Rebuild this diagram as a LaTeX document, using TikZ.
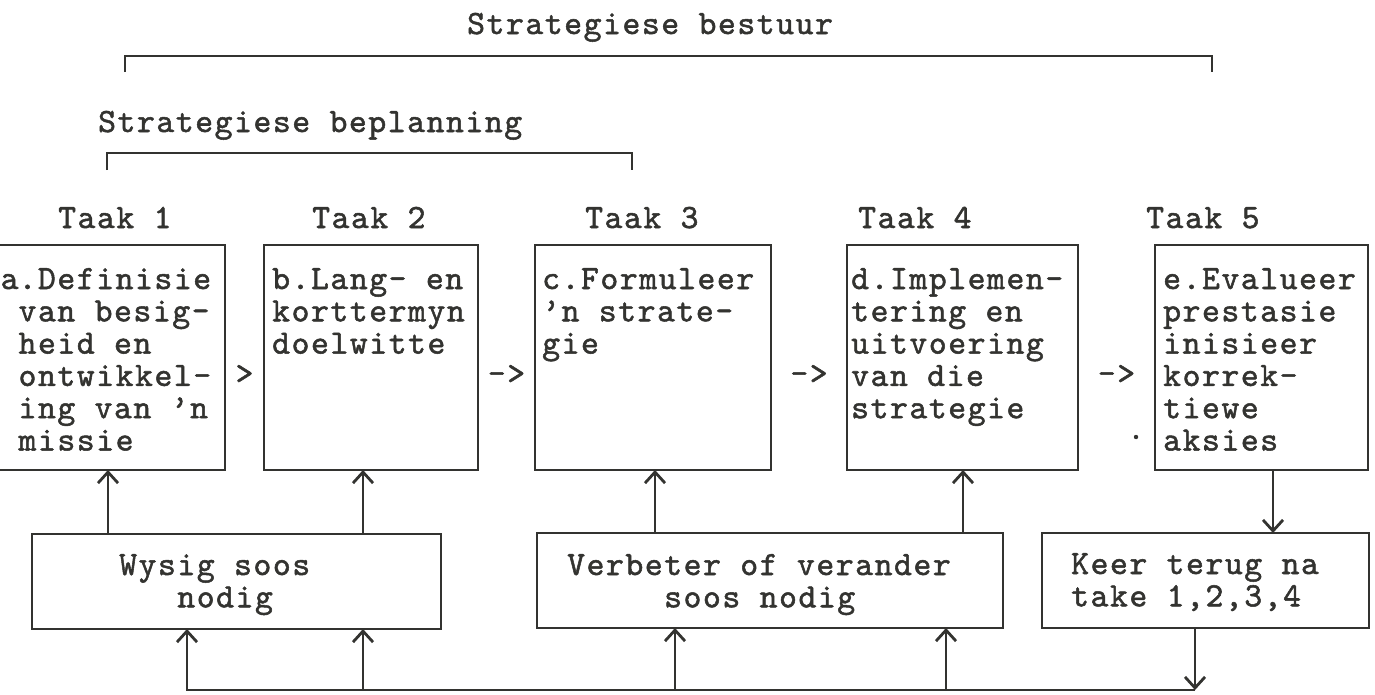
\documentclass[tikz,border=0pt]{standalone}
\usepackage{fontspec}
\usetikzlibrary{arrows.meta,calc}
\definecolor{ink}{HTML}{333330}
% typewriter face, spaced out to a 10-pitch grid
\newfontfamily\tw{lmmono10-regular.otf}[LetterSpace=4.6,FakeBold=1.5]
\newdimen\cellw \cellw=19.4pt
\newcommand\tyfont{\fontsize{34}{32.3}\tw\spaceskip=\cellw\relax}
\newcommand\tlines[1]{\begin{tabular}[t]{@{}l@{}}#1\end{tabular}}
\newcommand\cells[1]{\hspace*{#1\cellw}}
\begin{document}
\begin{tikzpicture}[x=1pt,y=-1pt,
  line/.style={draw=ink,line width=2.8pt},
  arr/.style={line,-{Straight Barb[length=11pt,width=20pt]}},
  frame/.style={draw=ink,line width=2.8pt,anchor=north west,inner sep=0pt,outer sep=0pt},
  taskbox/.style={frame,minimum width=#1,minimum height=225pt},
  actbox/.style={frame,minimum width=#1,minimum height=95pt},
  txt/.style={text=ink,font=\tyfont,inner sep=0pt}]
\useasboundingbox (0,0) rectangle (1375,694);

% headings and brackets
\node[txt,anchor=base west] (sb) at (467,34) {Strategiese bestuur};
\draw[line] (125,72) -- (125,56) -- (1212,56) -- (1212,72);
\node[txt,anchor=base west] (sp) at (98,132) {Strategiese beplanning};
\draw[line] (107,170) -- (107,153) -- (632,153) -- (632,170);

\node[txt,anchor=base west] (t1) at (58,228) {Taak 1};
\node[txt,anchor=base west] (t2) at (312,228) {Taak 2};
\node[txt,anchor=base west] (t3) at (585,228) {Taak 3};
\node[txt,anchor=base west] (t4) at (858,228) {Taak 4};
\node[txt,anchor=base west] (t5) at (1146,228) {Taak 5};

% task boxes
\node[taskbox=239pt] (a) at (-14,245) {};
\node[taskbox=214pt] (b) at (264,245) {};
\node[taskbox=236pt] (c) at (535,245) {};
\node[taskbox=231pt] (d) at (847,245) {};
\node[taskbox=213pt] (e) at (1155,245) {};

\node[txt,anchor=base west] (ta) at (18.4,289) {\tlines{\llap{a}.Definisie\\van besig-\\heid en\\ontwikkel-\\ing van ’n\\missie}};
\node[txt,anchor=base west] (tb) at (272,289) {\tlines{b.Lang- en\\korttermyn\\doelwitte}};
\node[txt,anchor=base west] (tc) at (542,289) {\tlines{c.Formuleer\\’n strate-\\gie}};
\node[txt,anchor=base west] (td) at (851,289) {\tlines{d.Implemen-\\tering en\\uitvoering\\van die\\strategie}};
\node[txt,anchor=base west] (te) at (1163,289) {\tlines{e.Evalueer\\prestasie\\inisieer\\korrek-\\tiewe\\aksies}};

% typed arrows between the tasks
\node[txt,yshift=-17pt] (g1) at ($(a.east)!0.5!(b.west)$) {>};
\node[txt,yshift=-17pt] (g2) at ($(b.east)!0.5!(c.west)$) {->};
\node[txt,yshift=-17pt] (g3) at ($(c.east)!0.5!(d.west)$) {->};
\node[txt,yshift=-17pt] (g4) at ($(d.east)!0.5!(e.west)$) {->};
\fill[ink] (1136,437) circle (2.2pt);

% action boxes
\node[actbox=409pt] (w) at (32,534) {};
\node[actbox=466pt] (v) at (537,533) {};
\node[actbox=327pt] (k) at (1042,533) {};

\node[txt,anchor=base west] (tw) at (119,575) {\tlines{Wysig soos\\\cells{3}nodig}};
\node[txt,anchor=base west] (tv) at (567,575) {\tlines{Verbeter of verander\\\cells{5}soos nodig}};
\node[txt,anchor=base west] (tk) at (1071,574) {\tlines{Keer terug na\\take 1,2,3,4}};

% feedback connectors
\coordinate (xa) at (108,0);
\coordinate (xb) at (363,0);
\coordinate (xc) at (655,0);
\coordinate (xd) at (963,0);
\coordinate (xe) at (1273,0);
\draw[arr] (w.north -| xa) -- (a.south -| xa);
\draw[arr] (w.north -| xb) -- (b.south -| xb);
\draw[arr] (v.north -| xc) -- (c.south -| xc);
\draw[arr] (v.north -| xd) -- (d.south -| xd);
\draw[arr] (e.south -| xe) -- (k.north -| xe);

\coordinate (r0) at (187,690);
\coordinate (r1) at (363,690);
\coordinate (r2) at (675,690);
\coordinate (r3) at (946,690);
\coordinate (r4) at (1195,690);
\draw[arr] (k.south -| r4) -- (r4);
\draw[arr] (r4) -- (r0) -- (r0 |- w.south);
\draw[arr] (r1) -- (r1 |- w.south);
\draw[arr] (r2) -- (r2 |- v.south);
\draw[arr] (r3) -- (r3 |- v.south);
\end{tikzpicture}
\end{document}
